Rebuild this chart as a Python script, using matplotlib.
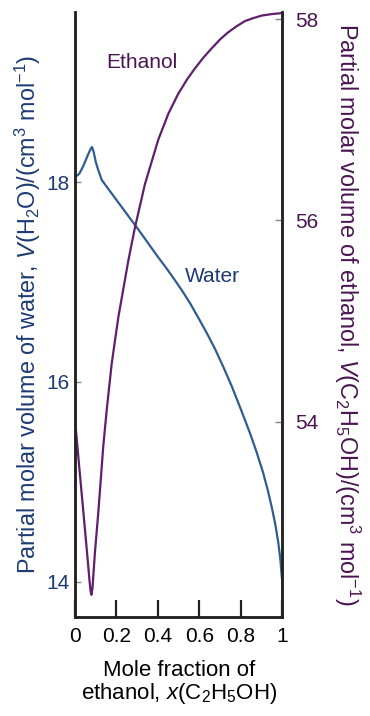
import matplotlib
matplotlib.use("Agg")
import matplotlib.pyplot as plt

plt.rcParams['font.family'] = ['Liberation Sans', 'DejaVu Sans']
plt.rcParams['mathtext.fontset'] = 'custom'
plt.rcParams['mathtext.rm'] = 'Liberation Sans'
plt.rcParams['mathtext.it'] = 'Liberation Sans:italic'

# values
x_water = [0.00, 0.02, 0.04, 0.06, 0.075, 0.082, 0.09, 0.10, 0.112, 0.129, 0.20,
           0.30, 0.40, 0.44, 0.474, 0.514, 0.554, 0.595, 0.635, 0.675, 0.715, 0.755,
           0.795, 0.843, 0.875, 0.907, 0.93, 0.948, 0.965, 0.98, 0.99, 1.00]
v_water = [18.05, 18.08, 18.16, 18.26, 18.33, 18.35, 18.30, 18.20, 18.12, 18.02, 17.82,
           17.54, 17.25, 17.14, 17.04, 16.92, 16.79, 16.64, 16.49, 16.33, 16.15, 15.96,
           15.75, 15.49, 15.30, 15.09, 14.91, 14.75, 14.58, 14.39, 14.22, 13.97]

x_eth = [0.00, 0.02, 0.04, 0.055, 0.064, 0.07, 0.075, 0.079, 0.084, 0.09, 0.096,
         0.112, 0.136, 0.153, 0.177, 0.209, 0.257, 0.289, 0.337, 0.401, 0.45,
         0.498, 0.54, 0.578, 0.62, 0.659, 0.70, 0.739, 0.78, 0.819, 0.86, 0.90,
         0.95, 1.00]
v_eth = [54.02, 53.56, 53.11, 52.77, 52.56, 52.42, 52.32, 52.28, 52.34, 52.52, 52.70,
         53.09, 53.75, 54.12, 54.58, 55.04, 55.60, 55.93, 56.36, 56.80, 57.06,
         57.26, 57.40, 57.51, 57.62, 57.71, 57.80, 57.87, 57.93, 57.98, 58.01, 58.035,
         58.05, 58.06]

x_ticks = [0, 0.2, 0.4, 0.6, 0.8, 1]
x_ticklabels = ['0', '0.2', '0.4', '0.6', '0.8', '1']
water_ticks = [14, 16, 18]
eth_ticks = [54, 56, 58]

blue = '#2f5d8f'
navy = '#1c3a74'
purple = '#5f1f6c'
dpurple = '#4a1452'

fig = plt.figure(figsize=(3.7, 7.16), dpi=100)
ax = fig.add_axes([0.2027, 0.1383, 0.5608, 0.8449])
ax2 = ax.twinx()

ax.plot(x_water, v_water, color=blue, lw=1.6)
ax2.plot(x_eth, v_eth, color=purple, lw=1.6)

ax.set_xlim(0, 1)
ax.set_ylim(13.65, 19.70)
ax2.set_ylim(52.06, 58.07)

for a in (ax, ax2):
    a.spines['top'].set_visible(False)
    for s in ('left', 'right', 'bottom'):
        a.spines[s].set_linewidth(1.8)
        a.spines[s].set_color('#222222')

ax.set_xticks(x_ticks)
ax.set_xticklabels(x_ticklabels)
ax.tick_params(axis='x', direction='in', length=12, width=1.6, pad=7,
               labelsize=15, color='#222222')
ax.set_yticks(water_ticks)
ax.tick_params(axis='y', direction='in', length=4, width=1, color='#888888',
               labelsize=15, labelcolor=navy, pad=4)
ax2.set_yticks(eth_ticks)
ax2.tick_params(axis='y', direction='in', length=5, width=1, color='#888888',
                labelsize=15, labelcolor=dpurple, pad=9)

ax.set_ylabel(r'Partial molar volume of water, $V$(H$_2$O)/(cm$^3$ mol$^{-1}$)',
              color=navy, fontsize=16.8, labelpad=2)
ax2.set_ylabel(r'Partial molar volume of ethanol, $V$(C$_2$H$_5$OH)/(cm$^3$ mol$^{-1}$)',
               color=dpurple, fontsize=16.8, rotation=270, labelpad=32)
ax.set_xlabel('Mole fraction of\nethanol, $x$(C$_2$H$_5$OH)', fontsize=16,
              linespacing=1.0, labelpad=10)

ax.text(0.15, 19.14, 'Ethanol', color=dpurple, fontsize=15)
ax.text(0.53, 17.0, 'Water', color=navy, fontsize=15)

fig.savefig('out.png', dpi=100)
